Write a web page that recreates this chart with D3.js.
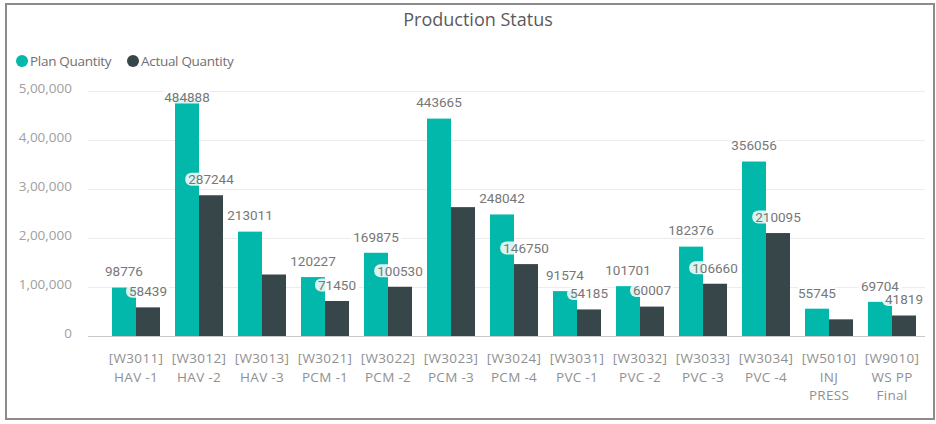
<!DOCTYPE html>
<html>
<head>
<meta charset="utf-8">
<script src="https://cdnjs.cloudflare.com/ajax/libs/d3/7.8.5/d3.min.js"></script>
<style>
  html, body { margin: 0; padding: 0; background: #ffffff; }
  svg { display: block; }
</style>
</head>
<body>
<svg id="chart" width="936" height="424"></svg>
<script>
// Work centres shown along the x axis
const categories = [
  "[W3011] HAV -1", "[W3012] HAV -2", "[W3013] HAV -3",
  "[W3021] PCM -1", "[W3022] PCM -2", "[W3023] PCM -3", "[W3024] PCM -4",
  "[W3031] PVC -1", "[W3032] PVC -2", "[W3033] PVC -3", "[W3034] PVC -4",
  "[W5010] INJ PRESS", "[W9010] WS PP Final"
];
const seriesNames = ["Plan Quantity", "Actual Quantity"];
const planQuantity = [98776, 484888, 213011, 120227, 169875, 443665, 248042, 91574, 101701, 182376, 356056, 55745, 69704];
const actualQuantity = [58439, 287244, 125500, 71450, 100530, 263000, 146750, 54185, 60007, 106660, 210095, 34000, 41819];
const yTicks = [0, 100000, 200000, 300000, 400000, 500000];

const colors = ["#01B8AA", "#374649"];
const series = [planQuantity, actualQuantity];

const svg = d3.select("#chart");
const W = 936;

// Visual frame
svg.append("rect")
  .attr("x", 6).attr("y", 4).attr("width", W - 8).attr("height", 415)
  .attr("fill", "#ffffff").attr("stroke", "#8c8c8c").attr("stroke-width", 2);

// Title
svg.append("text")
  .attr("x", 478).attr("y", 26)
  .attr("text-anchor", "middle")
  .attr("font-family", "'Open Sans', sans-serif")
  .attr("font-size", 18)
  .attr("fill", "#5a5a5a")
  .text("Production Status");

// Legend
const legend = svg.append("g").attr("font-family", "'Open Sans', sans-serif").attr("font-size", 13.5);
const legendX = [22, 133];
seriesNames.forEach((name, i) => {
  legend.append("circle").attr("cx", legendX[i]).attr("cy", 61).attr("r", 6).attr("fill", colors[i]);
  legend.append("text").attr("x", legendX[i] + 8).attr("y", 61).attr("dy", "0.35em")
    .attr("fill", "#707070").attr("letter-spacing", -0.3).text(name);
});

// Scales
const x = d3.scaleBand()
  .domain(categories)
  .range([104.5, 923.5])
  .paddingInner(0.238)
  .paddingOuter(0.119);
const xInner = d3.scaleBand()
  .domain(d3.range(series.length))
  .range([0, x.bandwidth()]);
const y = d3.scaleLinear().domain([0, 500000]).range([336, 91]);

// Indian digit grouping, e.g. 5,00,000
function indianFormat(v) {
  const s = String(Math.round(v));
  if (s.length <= 3) return s;
  const last3 = s.slice(-3);
  let rest = s.slice(0, -3);
  const parts = [];
  while (rest.length > 2) { parts.unshift(rest.slice(-2)); rest = rest.slice(0, -2); }
  if (rest.length) parts.unshift(rest);
  return parts.join(",") + "," + last3;
}

// Y axis with full-width gridlines
const yAxis = d3.axisLeft(y).tickValues(yTicks).tickFormat(indianFormat).tickSize(-(925 - 88)).tickPadding(16);
const yG = svg.append("g").attr("transform", "translate(88,0)").call(yAxis);
yG.select(".domain").remove();
yG.selectAll(".tick line").attr("stroke", d => d === 0 ? "#c8c8c8" : "#ececec").attr("stroke-width", 1);
yG.selectAll(".tick text")
  .attr("font-family", "'Open Sans', sans-serif")
  .attr("font-size", 13.5)
  .attr("fill", "#a0a0a0")
  .attr("dy", "0.1em");

// Bars
const groups = svg.append("g").selectAll("g")
  .data(categories)
  .join("g")
  .attr("transform", d => `translate(${x(d)},0)`);
groups.selectAll("rect")
  .data((d, i) => series.map((s, k) => ({ k, v: s[i] })))
  .join("rect")
  .attr("x", d => xInner(d.k))
  .attr("width", xInner.bandwidth())
  .attr("y", d => y(d.v))
  .attr("height", d => y(0) - y(d.v))
  .attr("fill", d => colors[d.k]);

// X axis labels: code on the first line, name wrapped below
const xAxis = d3.axisBottom(x).tickSize(0).tickPadding(0);
const xG = svg.append("g").attr("transform", "translate(0,336)").call(xAxis);
xG.select(".domain").remove();
xG.selectAll(".tick text").each(function(d) {
  const t = d3.select(this);
  t.text(null)
    .attr("font-family", "'Open Sans', sans-serif")
    .attr("font-size", 13.5)
    .attr("letter-spacing", 0.3)
    .attr("fill", "#909090")
    .attr("y", 0).attr("dy", null);
  const words = d.split(" ");
  const code = words.shift();
  const maxW = 52;
  let lineNo = 1;
  let current = [];
  t.append("tspan").attr("x", 0).attr("y", 27).text(code);
  let tspan = t.append("tspan").attr("x", 0).attr("y", 27 + 18.5 * lineNo);
  words.forEach(w => {
    current.push(w);
    tspan.text(current.join(" "));
    if (tspan.node().getComputedTextLength() > maxW && current.length > 1) {
      current.pop();
      tspan.text(current.join(" "));
      current = [w];
      lineNo++;
      tspan = t.append("tspan").attr("x", 0).attr("y", 27 + 18.5 * lineNo).text(w);
    }
  });
});

// Data labels: plan series placed first, a label that would overlap one already placed is dropped
const labelLayer = svg.append("g");
const placed = [];
const labelH = 13;
series.forEach((s, k) => {
  s.forEach((v, i) => {
    const cx = x(categories[i]) + xInner(k) + xInner.bandwidth() / 2;
    let cy = y(v) - 16;
    if (cy < 97) cy = 97;
    const g = labelLayer.append("g");
    const txt = g.append("text")
      .attr("x", cx).attr("y", cy).attr("dy", "0.36em")
      .attr("text-anchor", "middle")
      .attr("font-family", "Roboto, sans-serif")
      .attr("font-size", 13.5)
      .attr("fill", "#777")
      .text(String(v));
    const w = txt.node().getComputedTextLength() + 6;
    const box = { x0: cx - w / 2, x1: cx + w / 2, y0: cy - labelH / 2, y1: cy + labelH / 2 };
    const hit = placed.some(b => !(box.x1 <= b.x0 || box.x0 >= b.x1 || box.y1 <= b.y0 || box.y0 >= b.y1));
    if (hit) { g.remove(); return; }
    placed.push(box);
    g.insert("rect", "text")
      .attr("x", box.x0).attr("y", box.y0)
      .attr("width", w).attr("height", labelH)
      .attr("rx", 6).attr("ry", 6)
      .attr("fill", "#ffffff").attr("fill-opacity", 0.85);
  });
});
</script>
</body>
</html>
